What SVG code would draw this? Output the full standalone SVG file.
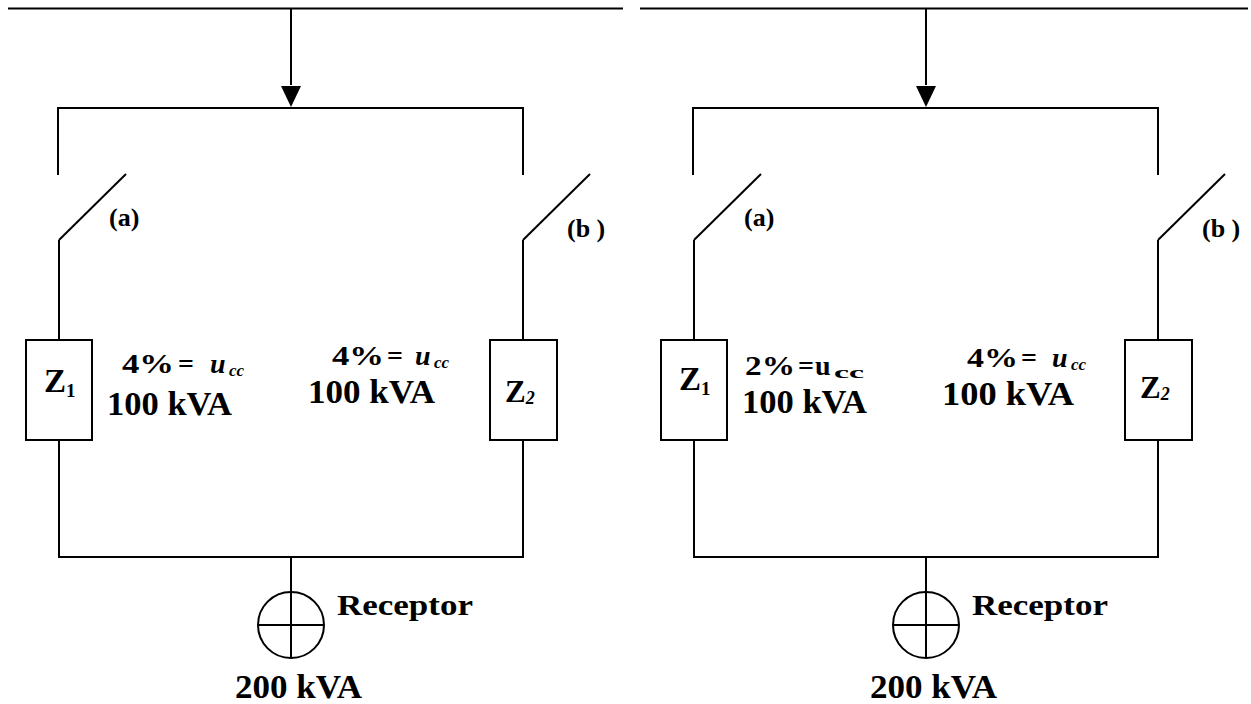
<svg xmlns="http://www.w3.org/2000/svg" width="1251" height="704" viewBox="0 0 1251 704">
<style>
.w{stroke:#000;stroke-width:2;fill:none}
.t{font-family:"Liberation Serif","Times New Roman",serif;font-weight:bold;fill:#000}
.big{font-size:33px}
.mid{font-size:28px}
.lab{font-size:26px}
.sub{font-size:17px}
.it{font-style:italic}
</style>
<g id="connectors">
<line class="w" x1="8" y1="8.5" x2="623" y2="8.5"/>
<line class="w" x1="640" y1="8.5" x2="1248" y2="8.5"/>
<g id="left-wires">
<path class="w" d="M291,8.5 V85"/>
<path d="M281,86 L301,86 L291,107 Z" fill="#000"/>
<path class="w" d="M58,175 V108 H523 V175"/>
<path class="w" d="M59,240 L126,174"/>
<path class="w" d="M59,240 V340"/>
<path class="w" d="M523,240 L590,174"/>
<path class="w" d="M523,240 V340"/>
<path class="w" d="M59,440 V557 H523 V440"/>
<path class="w" d="M291,557 V658"/>
</g>
<g id="right-wires" transform="translate(635,0)">
<path class="w" d="M291,8.5 V85"/>
<path d="M281,86 L301,86 L291,107 Z" fill="#000"/>
<path class="w" d="M58,175 V108 H523 V175"/>
<path class="w" d="M59,240 L126,174"/>
<path class="w" d="M59,240 V340"/>
<path class="w" d="M523,240 L590,174"/>
<path class="w" d="M523,240 V340"/>
<path class="w" d="M59,440 V557 H523 V440"/>
<path class="w" d="M291,557 V658"/>
</g>
</g>
<g id="L-Z1">
<rect class="w" x="26" y="340" width="66" height="100"/>
<text class="t" x="44" y="392" font-size="33">Z<tspan font-size="19" dy="5">1</tspan></text>
</g>
<g id="L-Z2">
<rect class="w" x="490" y="340" width="67" height="100"/>
<text class="t" x="505" y="402" font-size="31">Z<tspan class="it" font-size="18" dy="2">2</tspan></text>
</g>
<g id="L-switch-a"><text class="t lab" x="109" y="226">(a)</text></g>
<g id="L-switch-b"><text class="t lab" x="567" y="237">(b )</text></g>
<g id="L-text1">
<text class="t mid" y="373"><tspan x="122" textLength="52" lengthAdjust="spacingAndGlyphs">4%</tspan><tspan x="178">=</tspan><tspan x="210" class="it">u</tspan><tspan x="229" class="it sub" dy="3">cc</tspan></text>
<text class="t big" x="107" y="415" textLength="125" lengthAdjust="spacingAndGlyphs">100 kVA</text>
</g>
<g id="L-text2">
<text class="t mid" y="365"><tspan x="332" textLength="52" lengthAdjust="spacingAndGlyphs">4%</tspan><tspan x="387">=</tspan><tspan x="415" class="it">u</tspan><tspan x="434" class="it sub" dy="3">cc</tspan></text>
<text class="t big" x="308" y="403" textLength="127" lengthAdjust="spacingAndGlyphs">100 kVA</text>
</g>
<g id="L-receptor">
<circle class="w" cx="291" cy="625" r="33"/>
<line class="w" x1="258" y1="625" x2="324" y2="625"/>
<text class="t" x="337" y="615" font-size="30" textLength="136" lengthAdjust="spacingAndGlyphs">Receptor</text>
<text class="t big" x="235" y="698" textLength="127" lengthAdjust="spacingAndGlyphs">200 kVA</text>
</g>
<g id="R-Z1">
<rect class="w" x="661" y="340" width="66" height="100"/>
<text class="t" x="679" y="390" font-size="33">Z<tspan font-size="19" dy="5">1</tspan></text>
</g>
<g id="R-Z2">
<rect class="w" x="1125" y="340" width="67" height="100"/>
<text class="t" x="1140" y="398" font-size="31">Z<tspan class="it" font-size="18" dy="2">2</tspan></text>
</g>
<g id="R-switch-a"><text class="t lab" x="744" y="226">(a)</text></g>
<g id="R-switch-b"><text class="t lab" x="1202" y="237">(b )</text></g>
<g id="R-text1">
<text class="t mid" y="375"><tspan x="745" textLength="50" lengthAdjust="spacingAndGlyphs">2%</tspan><tspan x="798" textLength="16" lengthAdjust="spacingAndGlyphs">=</tspan><tspan x="815">u</tspan><tspan x="834" class="sub" dy="3" textLength="30" lengthAdjust="spacingAndGlyphs">cc</tspan></text>
<text class="t big" x="742" y="413" textLength="125" lengthAdjust="spacingAndGlyphs">100 kVA</text>
</g>
<g id="R-text2">
<text class="t mid" y="367"><tspan x="967" textLength="51" lengthAdjust="spacingAndGlyphs">4%</tspan><tspan x="1021">=</tspan><tspan x="1052" class="it">u</tspan><tspan x="1071" class="it sub" dy="3">cc</tspan></text>
<text class="t big" x="942" y="405" textLength="132" lengthAdjust="spacingAndGlyphs">100 kVA</text>
</g>
<g id="R-receptor">
<circle class="w" cx="926" cy="625" r="33"/>
<line class="w" x1="893" y1="625" x2="959" y2="625"/>
<text class="t" x="972" y="615" font-size="30" textLength="136" lengthAdjust="spacingAndGlyphs">Receptor</text>
<text class="t big" x="870" y="698" textLength="127" lengthAdjust="spacingAndGlyphs">200 kVA</text>
</g>
</svg>
